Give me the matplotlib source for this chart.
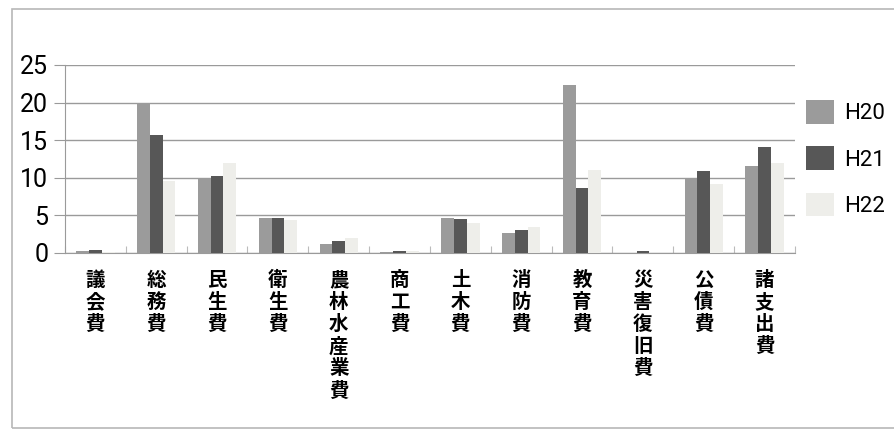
import matplotlib
matplotlib.use("Agg")
import matplotlib.pyplot as plt
import numpy as np
from matplotlib.patches import Rectangle

# 歳出の費目別推移（H20〜H22）
categories = ["議会費", "総務費", "民生費", "衛生費", "農林水産業費", "商工費",
              "土木費", "消防費", "教育費", "災害復旧費", "公債費", "諸支出費"]
h20 = [0.3, 20.0, 9.9, 4.7, 1.2, 0.1, 4.6, 2.6, 22.4, 0.05, 9.8, 11.6]
h21 = [0.4, 15.7, 10.3, 4.7, 1.6, 0.3, 4.5, 3.1, 8.6, 0.2, 10.9, 14.1]
h22 = [0.1, 9.6, 12.0, 4.4, 2.0, 0.2, 4.0, 3.5, 11.0, 0.05, 9.2, 12.0]
series_names = ["H20", "H21", "H22"]
yticks = [0, 5, 10, 15, 20, 25]

plt.rcParams['font.family'] = ['Liberation Sans Narrow', 'Roboto', 'DejaVu Sans']

fig = plt.figure(figsize=(8.94, 4.32), dpi=100)
W, H = 894, 432
ax = fig.add_axes([65 / W, 1 - 253 / H, 730 / W, 188 / H])

# outer frame of the scanned chart
fig.patches.append(Rectangle((12 / W, 0.01), 1.2, 1 - 9 / H - 0.01,
                             transform=fig.transFigure, fill=False,
                             edgecolor="#b8b8b8", linewidth=1.2))

x = np.arange(len(categories))
w = 0.21
colors = ["#9b9b9b", "#575757", "#eeeeea"]
for i, (vals, name, c) in enumerate(zip([h20, h21, h22], series_names, colors)):
    ax.bar(x + (i - 1) * w, vals, width=w, color=c, label=name, zorder=3)

ax.set_xlim(-0.5, len(categories) - 0.5)
ax.set_ylim(0, 25)
ax.set_yticks(yticks)
ax.set_yticklabels([str(t) for t in yticks], fontsize=18)
ax.yaxis.grid(True, color="#9a9a9a", linewidth=1.0, zorder=0)
ax.tick_params(axis="y", length=8, color="#9a9a9a", pad=4)

for s in ["top", "right"]:
    ax.spines[s].set_visible(False)
ax.spines["left"].set_color("#9a9a9a")
ax.spines["bottom"].set_color("#9a9a9a")

# category boundary ticks, labels as vertical text
ax.set_xticks(np.arange(len(categories) + 1) - 0.5)
ax.set_xticklabels([])
ax.tick_params(axis="x", direction="in", length=5, color="#bbbbbb")
for xi, cat in zip(x, categories):
    ax.text(xi, -2.4, "\n".join(cat), ha="center", va="top", fontsize=14,
            fontweight="bold", linespacing=1.2,
            family=["Noto Sans CJK JP", "DejaVu Sans"])

fig.legend(*ax.get_legend_handles_labels(), loc="upper left",
           bbox_to_anchor=(806 / W, 1 - 100 / H), bbox_transform=fig.transFigure,
           frameon=False, borderaxespad=0, borderpad=0,
           fontsize=16, handlelength=1.25, handleheight=1.25,
           labelspacing=1.0, handletextpad=0.45)

fig.savefig("out.png", dpi=100, facecolor="white")
